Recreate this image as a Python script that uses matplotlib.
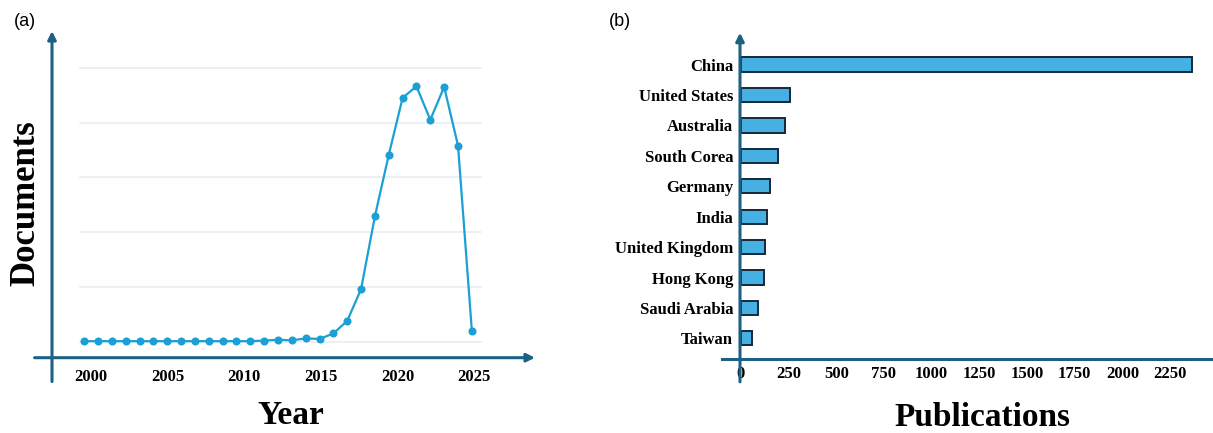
import matplotlib.pyplot as plt
import numpy as np

# (a) yearly documents, one value per plotted point
documents = [1, 1, 1, 1, 1, 1, 1, 1, 1, 1, 1, 1, 1, 2, 3.5, 2.5, 6, 5,
             15, 38, 96, 229, 341, 445, 466, 405, 465, 358, 20]
year_labels = ['2000', '2005', '2010', '2015', '2020', '2025']

# (b) publications by country
countries = ['China', 'United States', 'Australia', 'South Corea', 'Germany',
             'India', 'United Kingdom', 'Hong Kong', 'Saudi Arabia', 'Taiwan']
publications = [2365, 256, 232, 193, 150, 139, 127, 121, 88, 60]
pub_ticks = [0, 250, 500, 750, 1000, 1250, 1500, 1750, 2000, 2250]

axis_col = '#1c6184'
line_col = '#1ba0d6'
bar_col = '#47b0e2'
serif = 'Liberation Serif'

W, H = 1213, 433
fig = plt.figure(figsize=(W / 100, H / 100), dpi=100)


def px_box(x0, y_top, x1, y_bot):
    return [x0 / W, 1 - y_bot / H, (x1 - x0) / W, (y_bot - y_top) / H]


# ---- panel (a) ----
ax1 = fig.add_axes(px_box(52, 31, 535, 357.7))
x = np.arange(len(documents))
ax1.set_xlim(-2.32, 32.56)
ax1.set_ylim(-29.2, 567)
for g in range(0, 600, 100):
    ax1.plot([-0.32, 28.65], [g, g], color='#e9edf3', lw=1.2, zorder=1)
ax1.plot(x, documents, color=line_col, lw=1.6, marker='o', ms=4.8, zorder=3)

for s in ax1.spines.values():
    s.set_visible(False)
ax1.set_yticks([])
ax1.set_xticks(0.48 + np.arange(len(year_labels)) * 5.54)
ax1.set_xticklabels(year_labels, fontfamily=serif, fontweight='bold', fontsize=12)
ax1.tick_params(axis='x', length=0, pad=8)

arrow = dict(arrowstyle='-|>', color=axis_col, lw=2.2, mutation_scale=12,
             shrinkA=0, shrinkB=0)
ax1.annotate('', xy=(0, 1), xytext=(0, -0.073), xycoords='axes fraction',
             arrowprops=arrow, annotation_clip=False)
ax1.annotate('', xy=(1, 0), xytext=(-0.036, 0), xycoords='axes fraction',
             arrowprops=arrow, annotation_clip=False)

fig.text(26 / W, 1 - 203 / H, 'Documents', rotation=90, ha='center', va='center',
         fontfamily=serif, fontweight='bold', fontsize=25)
fig.text(291 / W, 1 - 415 / H, 'Year', ha='center', va='center',
         fontfamily=serif, fontweight='bold', fontsize=24)
fig.text(25 / W, 1 - 22 / H, '(a)', ha='center', va='center',
         fontfamily='Liberation Sans', fontsize=13)

# ---- panel (b) ----
ax2 = fig.add_axes(px_box(740, 32.7, 1213, 359))
y = np.arange(len(countries))
ax2.barh(y, publications, height=0.47, color=bar_col, edgecolor='#15293a',
         lw=1.4, zorder=3)
ax2.set_xlim(-5, 2475)
ax2.set_ylim(9.68, -1.05)

for s in ax2.spines.values():
    s.set_visible(False)
ax2.set_yticks(y)
ax2.set_yticklabels(countries, fontfamily=serif, fontweight='bold', fontsize=12)
ax2.set_xticks(pub_ticks)
ax2.set_xticklabels([str(t) for t in pub_ticks], fontfamily=serif,
                    fontweight='bold', fontsize=12)
ax2.tick_params(axis='both', length=0)
ax2.tick_params(axis='y', pad=5)
ax2.tick_params(axis='x', pad=5)

ax2.annotate('', xy=(0, 1), xytext=(0, -0.07), xycoords='axes fraction',
             arrowprops=arrow, annotation_clip=False)
ax2.plot([-0.037, 1.0], [0, 0], transform=ax2.transAxes, color=axis_col,
         lw=2.2, clip_on=False)

fig.text(982 / W, 1 - 418 / H, 'Publications', ha='center', va='center',
         fontfamily=serif, fontweight='bold', fontsize=24)
fig.text(620 / W, 1 - 22 / H, '(b)', ha='center', va='center',
         fontfamily='Liberation Sans', fontsize=13)

fig.savefig('out.png', dpi=100)
